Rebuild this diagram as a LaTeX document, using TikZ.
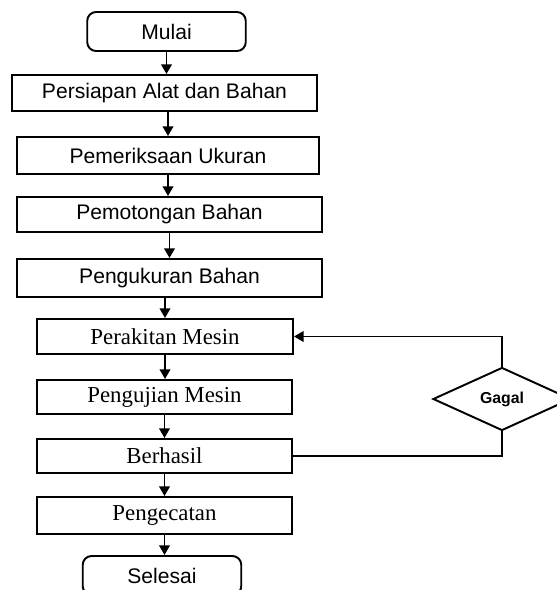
\documentclass[tikz,border=0pt]{standalone}
\usepackage{fontspec}
\setmainfont{Liberation Serif}
\setsansfont{Liberation Sans}
\usepackage{tikz}
\usetikzlibrary{positioning, arrows.meta, shapes.geometric, calc}

\begin{document}
\begin{tikzpicture}[line width=1.1pt, >={Triangle[length=5.5pt, width=6pt]},
  box/.style={draw, rectangle, inner sep=0pt, font=\sffamily\fontsize{12}{14}\selectfont},
  sbox/.style={draw, rectangle, inner sep=0pt, font=\rmfamily\fontsize{13}{15}\selectfont},
  term/.style={draw, rounded corners=5pt, inner sep=0pt, minimum width=3.17cm, minimum height=0.78cm, font=\sffamily\fontsize{12}{14}\selectfont},
  cek/.style={draw, diamond, inner sep=0pt, minimum width=2.76cm, minimum height=1.26cm, font=\sffamily\bfseries\fontsize{9}{11}\selectfont}]
\useasboundingbox (0, 0) rectangle (11.14, -11.8);

\node[term] (mulai) at (3.33, -0.63) {Mulai};
\node[box, minimum width=6.1cm, minimum height=0.72cm] (persiapan) at (3.29, -1.86) {Persiapan Alat dan Bahan};
\node[box, minimum width=6.04cm, minimum height=0.74cm] (pemeriksaan) at (3.36, -3.11) {Pemeriksaan Ukuran};
\node[box, minimum width=6.1cm, minimum height=0.7cm] (pemotongan) at (3.39, -4.29) {Pemotongan Bahan};
\node[box, minimum width=6.1cm, minimum height=0.76cm] (pengukuran) at (3.39, -5.56) {Pengukuran Bahan};

\node[sbox, minimum width=5.12cm, minimum height=0.7cm] (perakitan) at (3.30, -6.73) {Perakitan Mesin};
\node[sbox, minimum width=5.1cm, minimum height=0.68cm] (pengujian) at (3.29, -7.94) {Pengujian Mesin};
\node[sbox, minimum width=5.1cm, minimum height=0.68cm] (berhasil) at (3.29, -9.12) {Berhasil};
\node[sbox, minimum width=5.1cm, minimum height=0.74cm] (pengecatan) at (3.29, -10.31) {Pengecatan};
\node[term] (selesai) at (3.24, -11.51) {Selesai};

\node[cek] (gagal) at (10.04, -7.98) {Gagal};

% alur utama
\draw[->] (mulai) -- (mulai |- persiapan.north);
\draw[->] (persiapan.south -| pemeriksaan) -- (pemeriksaan);
\draw[->] (pemeriksaan) -- (pemeriksaan |- pemotongan.north);
\draw[->] (pemotongan) -- (pemotongan |- pengukuran.north);
\draw[->] (pengukuran.south -| perakitan) -- (perakitan);
\draw[->] (perakitan) -- (perakitan |- pengujian.north);
\draw[->] (pengujian) -- (pengujian |- berhasil.north);
\draw[->] (berhasil) -- (berhasil |- pengecatan.north);
\draw[->] (pengecatan) -- (pengecatan |- selesai.north);

% umpan balik
\draw[->] (gagal.north) |- (perakitan.east);
\draw (berhasil.east) -| (gagal.south);
\end{tikzpicture}
\end{document}
